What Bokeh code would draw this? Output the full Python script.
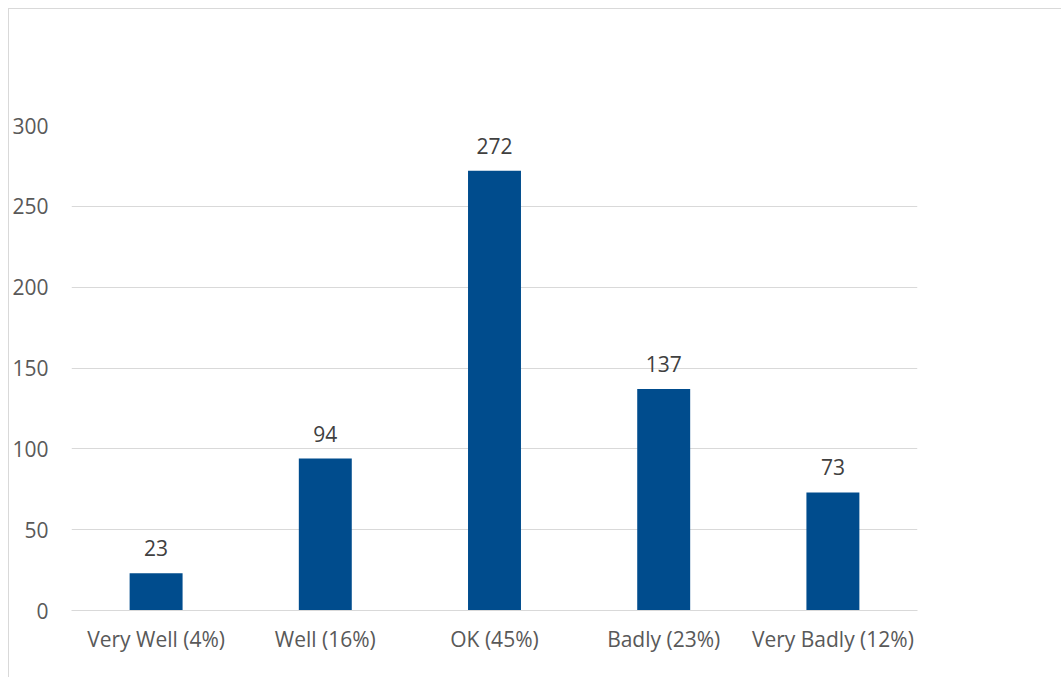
from bokeh.plotting import figure
from bokeh.models import ColumnDataSource, LabelSet, FactorRange
from bokeh.core.properties import value
from bokeh.embed import file_html
from bokeh.resources import INLINE

categories = ["Very Well (4%)", "Well (16%)", "OK (45%)", "Badly (23%)", "Very Badly (12%)"]
counts = [23, 94, 272, 137, 73]
y_ticks = [0, 50, 100, 150, 200, 250, 300]

FONT = "Open Sans"
src = ColumnDataSource(dict(cat=categories, val=counts, lab=[str(v) for v in counts]))

p = figure(x_range=FactorRange(*categories), y_range=(0, 300),
           width=1053, height=669, output_backend="svg", toolbar_location=None,
           min_border_left=62, min_border_right=145, min_border_top=116, min_border_bottom=68)
p.styles = {"border-left": "1px solid #d9d9d9", "border-top": "1px solid #d9d9d9",
            "margin-left": "8px", "margin-top": "8px"}
p.outline_line_color = None
p.background_fill_color = "white"
p.border_fill_color = "white"

p.vbar(x="cat", top="val", width=0.313, source=src, fill_color="#004C8D", line_color=None)

labels = LabelSet(x="cat", y="val", text="lab", source=src, text_align="center",
                  text_baseline="alphabetic", y_offset=17, text_font=value(FONT),
                  text_font_size="21px", text_color="#404040")
p.add_layout(labels)

p.xgrid.grid_line_color = None
p.ygrid.grid_line_color = "#d9d9d9"
p.ygrid.grid_line_width = 1
p.yaxis.ticker = y_ticks
p.yaxis.axis_line_color = None
p.yaxis.major_tick_line_color = None
p.yaxis.minor_tick_line_color = None
p.yaxis.major_label_standoff = 17
p.xaxis.axis_line_color = "#d9d9d9"
p.xaxis.major_tick_line_color = None
p.xaxis.major_label_standoff = 8
for ax in (p.xaxis, p.yaxis):
    ax.major_label_text_font = FONT
    ax.major_label_text_font_size = "21px"
    ax.major_label_text_color = "#595959"

open("out.html", "w").write(file_html(p, INLINE))
